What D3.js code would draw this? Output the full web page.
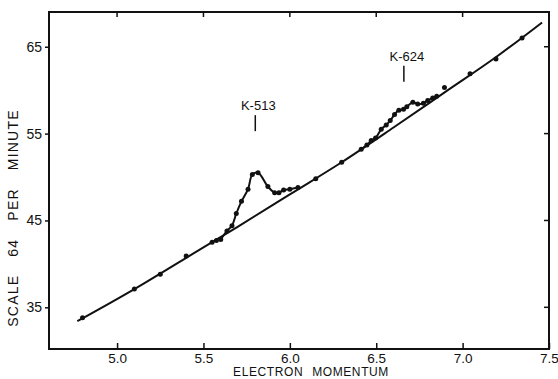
<!DOCTYPE html>
<meta charset="utf-8">
<title>electron momentum</title>
<style>
    body { margin: 0; background: #fff; }
    text { font-family: "Liberation Sans", Arial, sans-serif; fill: #111; }
    .tick text { font-size: 14px; }
    .xaxis .tick text { font-size: 13.5px; }
    .axis path, .axis line { stroke: #111; }
</style>

<body>
    <script src="https://d3js.org/d3.v7.min.js" charset="utf-8"></script>
    <script>
        // measured points (momentum, counts)
        var momentum = [4.80, 5.10, 5.25, 5.40, 5.55, 5.575, 5.60, 5.636, 5.665, 5.69, 5.72, 5.758,
            5.783, 5.816, 5.873, 5.912, 5.937, 5.964, 6.00, 6.047, 6.15, 6.30, 6.413, 6.446,
            6.471, 6.496, 6.529, 6.558, 6.581, 6.606, 6.631, 6.658, 6.677, 6.712, 6.74, 6.773,
            6.798, 6.827, 6.85, 6.895, 7.043, 7.193, 7.344];
        var counts = [33.8, 37.1, 38.8, 40.9, 42.5, 42.7, 42.8, 43.8, 44.4, 45.8, 47.2, 48.6,
            50.3, 50.5, 48.9, 48.2, 48.2, 48.5, 48.6, 48.8, 49.8, 51.7, 53.2, 53.7,
            54.2, 54.5, 55.5, 56.0, 56.5, 57.2, 57.7, 57.8, 58.1, 58.6, 58.4, 58.5,
            58.8, 59.1, 59.3, 60.3, 61.9, 63.6, 66.0];

        // smooth background curve
        var baseX = [4.77, 5.10, 5.40, 5.70, 6.00, 6.30, 6.60, 6.90, 7.20, 7.46];
        var baseY = [33.4, 37.1, 40.7, 44.3, 48.0, 51.7, 55.7, 59.8, 63.9, 67.8];

        // ranges of the two bumps that get their own line
        var peakRanges = [[5.60, 6.05], [6.41, 6.85]];

        var peakLabels = ["K-513", "K-624"];
        var peakLabelX = [5.80, 6.66];
        var peakLabelY = [57.7, 63.4];

        var xTicks = [5.0, 5.5, 6.0, 6.5, 7.0, 7.5];
        var yTicks = [35, 45, 55, 65];

        var width = 558,
            height = 379;

        var x = d3.scaleLinear().domain([4.606, 7.5]).range([49, 549]);
        var y = d3.scaleLinear().domain([30.2, 69.0]).range([349, 12]);

        var svg = d3.select("body").append("svg")
            .attr("width", width)
            .attr("height", height);

        // frame
        svg.append("rect")
            .attr("x", x.range()[0]).attr("y", y.range()[1])
            .attr("width", x.range()[1] - x.range()[0])
            .attr("height", y.range()[0] - y.range()[1])
            .style("fill", "none").style("stroke", "#111").style("stroke-width", 2);

        var xAxis = svg.append("g").attr("class", "axis xaxis")
            .attr("transform", "translate(0," + y.range()[0] + ")")
            .call(d3.axisBottom(x).tickValues(xTicks).tickFormat(d3.format(".1f")).tickSize(-6).tickPadding(4));
        xAxis.select(".domain").remove();
        xAxis.selectAll(".tick line").style("stroke-width", 1.5);

        var yAxis = svg.append("g").attr("class", "axis")
            .attr("transform", "translate(" + x.range()[0] + ",0)")
            .call(d3.axisLeft(y).tickValues(yTicks).tickSize(4).tickPadding(3));
        yAxis.select(".domain").remove();
        yAxis.selectAll(".tick line").style("stroke-width", 1.5);

        // small inner ticks on top and right
        svg.append("g")
            .selectAll("line").data(xTicks.slice(0, 5)).enter().append("line")
            .attr("x1", x).attr("x2", x)
            .attr("y1", y.range()[1]).attr("y2", y.range()[1] + 5)
            .style("stroke", "#111").style("stroke-width", 1.5);
        svg.append("g")
            .selectAll("line").data(yTicks).enter().append("line")
            .attr("x1", x.range()[1]).attr("x2", x.range()[1] - 5)
            .attr("y1", y).attr("y2", y)
            .style("stroke", "#111").style("stroke-width", 1.5);

        // axis titles
        svg.append("text")
            .attr("x", 311).attr("y", 376)
            .attr("text-anchor", "middle")
            .style("font-size", "12px")
            .style("letter-spacing", "0.6px")
            .style("word-spacing", "5px")
            .text("ELECTRON MOMENTUM");

        svg.append("text")
            .attr("transform", "translate(18,218) rotate(-90)")
            .attr("text-anchor", "middle")
            .style("font-size", "14px")
            .style("letter-spacing", "1.2px")
            .style("word-spacing", "13px")
            .text("SCALE 64 PER MINUTE");

        // background curve
        var baseData = baseX.map(function (d, i) { return [d, baseY[i]]; });
        svg.append("path")
            .datum(baseData)
            .attr("d", d3.line().x(function (d) { return x(d[0]); }).y(function (d) { return y(d[1]); })
                .curve(d3.curveMonotoneX))
            .style("fill", "none").style("stroke", "#111").style("stroke-width", 2);

        var points = momentum.map(function (d, i) { return [d, counts[i]]; });

        // lines through the bumps
        peakRanges.forEach(function (r) {
            var sub = points.filter(function (p) { return p[0] >= r[0] && p[0] <= r[1]; });
            svg.append("path")
                .datum(sub)
                .attr("d", d3.line().x(function (d) { return x(d[0]); }).y(function (d) { return y(d[1]); })
                    .curve(d3.curveCatmullRom))
                .style("fill", "none").style("stroke", "#111").style("stroke-width", 2);
        });

        svg.append("g")
            .selectAll("circle").data(points).enter().append("circle")
            .attr("cx", function (d) { return x(d[0]); })
            .attr("cy", function (d) { return y(d[1]); })
            .attr("r", 2.5)
            .style("fill", "#111");

        // peak labels
        peakLabels.forEach(function (t, i) {
            var lx = x(peakLabelX[i]), ly = y(peakLabelY[i]);
            svg.append("text")
                .attr("x", lx + 3).attr("y", ly)
                .attr("text-anchor", "middle")
                .style("font-size", "13px")
                .text(t);
            svg.append("line")
                .attr("x1", lx).attr("x2", lx)
                .attr("y1", ly + 5).attr("y2", ly + 21)
                .style("stroke", "#111").style("stroke-width", 1.5);
        });
    </script>
